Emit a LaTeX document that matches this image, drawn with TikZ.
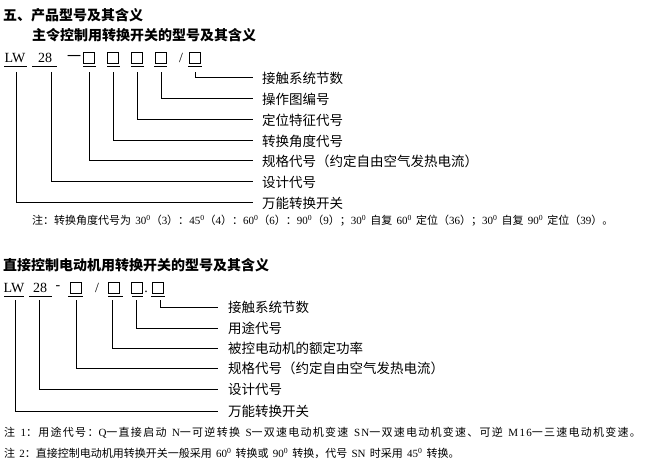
\documentclass[tikz,border=0pt]{standalone}
\usepackage{fontspec}
\setmainfont{Noto Sans CJK SC}
\newfontfamily\lat{Liberation Serif}
\newfontfamily\cjkwide[LetterSpace=11.5]{Noto Sans CJK SC}
\newfontfamily\latwide[LetterSpace=11.5]{Liberation Serif}
\newcommand{\dg}{\textsuperscript{0}}
\newcommand{\lt}[1]{{\lat #1}}
\newcommand{\ltw}[1]{{\latwide #1}}
\newcommand{\hs}{\hspace{4.2pt}}
\newcommand{\hw}{\hspace{5.5pt}}
\begin{document}
\begin{tikzpicture}[x=1pt,y=-1pt,
  lab/.style={anchor=west,inner sep=0pt,font=\fontsize{13.5}{14}\selectfont},
  code/.style={anchor=center,inner sep=0pt,font=\lat\fontsize{14}{14}\selectfont},
  bx/.style={draw,minimum width=11pt,minimum height=10.5pt,inner sep=0pt,line width=0.9pt},
  ul/.style={line width=0.8pt},
  con/.style={line width=1pt},
  ttl/.style={anchor=west,inner sep=0pt,font=\bfseries\fontsize{14}{14}\selectfont},
  note/.style={anchor=west,inner sep=0pt,font=\fontsize{11}{12}\selectfont}]
\useasboundingbox[fill=white] (0,0) rectangle (645,465);

% ---------- diagram 1 ----------
\node[ttl] (t1) at (3,15) {五、产品型号及其含义};
\node[ttl] (t2) at (32,35) {主令控制用转换开关的型号及其含义};

\node[code] (lw1) at (15,58) {LW};
\node[code] (n28a) at (45,58) {28};
\node[anchor=center,inner sep=0pt,font=\fontsize{14}{14}\selectfont] (d1) at (74,58.5) {一};
\node[bx] (a1) at (89,58) {};
\node[bx] (a2) at (113,58) {};
\node[bx] (a3) at (137,58) {};
\node[bx] (a4) at (161,58) {};
\node[code] (s1) at (181,58) {/};
\node[bx] (a5) at (195,58) {};
\draw[ul] (4,66) -- (27,66) (32,66) -- (57,66) (83,66) -- (96,66) (107,66) -- (120,66)
  (131,66) -- (144,66) (154,66) -- (167,66) (188,66) -- (202,66);

\node[lab] (l1) at (262,78) {接触系统节数};
\node[lab] (l2) at (262,99) {操作图编号};
\node[lab] (l3) at (262,120) {定位特征代号};
\node[lab] (l4) at (262,141) {转换角度代号};
\node[lab] (l5) at (262,161) {规格代号（约定自由空气发热电流）};
\node[lab] (l6) at (262,182) {设计代号};
\node[lab] (l7) at (262,203) {万能转换开关};

\coordinate (v1) at (16,72);
\coordinate (v2) at (51,72);
\draw[con] ([yshift=-8.5pt]a5.south) |- ([xshift=-9pt]l1.west);
\draw[con] ([yshift=-8.5pt]a4.south) |- ([xshift=-9pt]l2.west);
\draw[con] ([yshift=-8.5pt]a3.south) |- ([xshift=-9pt]l3.west);
\draw[con] ([yshift=-8.5pt]a2.south) |- ([xshift=-9pt]l4.west);
\draw[con] ([yshift=-8.5pt]a1.south) |- ([xshift=-9pt]l5.west);
\draw[con] (v2) |- ([xshift=-9pt]l6.west);
\draw[con] (v1) |- ([xshift=-9pt]l7.west);

\node[note] (nt0) at (32,221) {注：转换角度代号为\hs\lt{30\dg}（\lt{3}）：\lt{45\dg}（\lt{4}）：\lt{60\dg}（\lt{6}）：\lt{90\dg}（\lt{9}）；\lt{30\dg}\hs 自复\hs\lt{60\dg}\hs 定位（\lt{36}）；\lt{30\dg}\hs 自复\hs\lt{90\dg}\hs 定位（\lt{39}）。};

% ---------- diagram 2 ----------
\node[ttl] (t3) at (3,265) {直接控制电动机用转换开关的型号及其含义};

\node[code] (lw2) at (14,288) {LW};
\node[code] (n28b) at (40,288) {28};
\node[code] (d2) at (58,288) {-};
\node[bx] (c1) at (76,288) {};
\node[code] (s2) at (97,288) {/};
\node[bx] (c2) at (114,288) {};
\node[bx] (c3) at (137,288) {};
\node[code] (dot) at (146,292) {.};
\node[bx] (c4) at (158,288) {};
\draw[ul] (4,296) -- (24,296) (29,296) -- (52,296) (68,296) -- (83,296) (108,296) -- (123,296)
  (132,296) -- (143,296) (151,296) -- (165,296);

\node[lab] (m1) at (228,307) {接触系统节数};
\node[lab] (m2) at (228,328) {用途代号};
\node[lab] (m3) at (228,348) {被控电动机的额定功率};
\node[lab] (m4) at (228,368) {规格代号（约定自由空气发热电流）};
\node[lab] (m5) at (228,389) {设计代号};
\node[lab] (m6) at (228,411) {万能转换开关};

\coordinate (w1) at (15,300);
\coordinate (w2) at (39,300);
\coordinate (w3) at (76,300);
\coordinate (w4) at (112,300);
\coordinate (w5) at (136,300);
\coordinate (w6) at (160,300);
\draw[con] (w6) |- ([xshift=-10pt]m1.west);
\draw[con] (w5) |- ([xshift=-10pt]m2.west);
\draw[con] (w4) |- ([xshift=-10pt]m3.west);
\draw[con] (w3) |- ([xshift=-10pt]m4.west);
\draw[con] (w2) |- ([xshift=-10pt]m5.west);
\draw[con] (w1) |- ([xshift=-10pt]m6.west);

\node[note,font=\cjkwide\fontsize{11}{12}\selectfont] (nt1) at (4,433) {注\hw\ltw{1}：用途代号：\ltw{Q}一直接启动\hw\ltw{N}一可逆转换\hw\ltw{S}一双速电动机变速\hw\ltw{SN}一双速电动机变速、可逆\hw\ltw{M16}一三速电动机变速。};
\node[note] (nt2) at (4,453) {注\hs\lt{2}：直接控制电动机用转换开关一般采用\hs\lt{60\dg}\hs 转换或\hs\lt{90\dg}\hs 转换，代号\hs\lt{SN}\hs 时采用\hs\lt{45\dg}\hs 转换。};
\end{tikzpicture}
\end{document}
